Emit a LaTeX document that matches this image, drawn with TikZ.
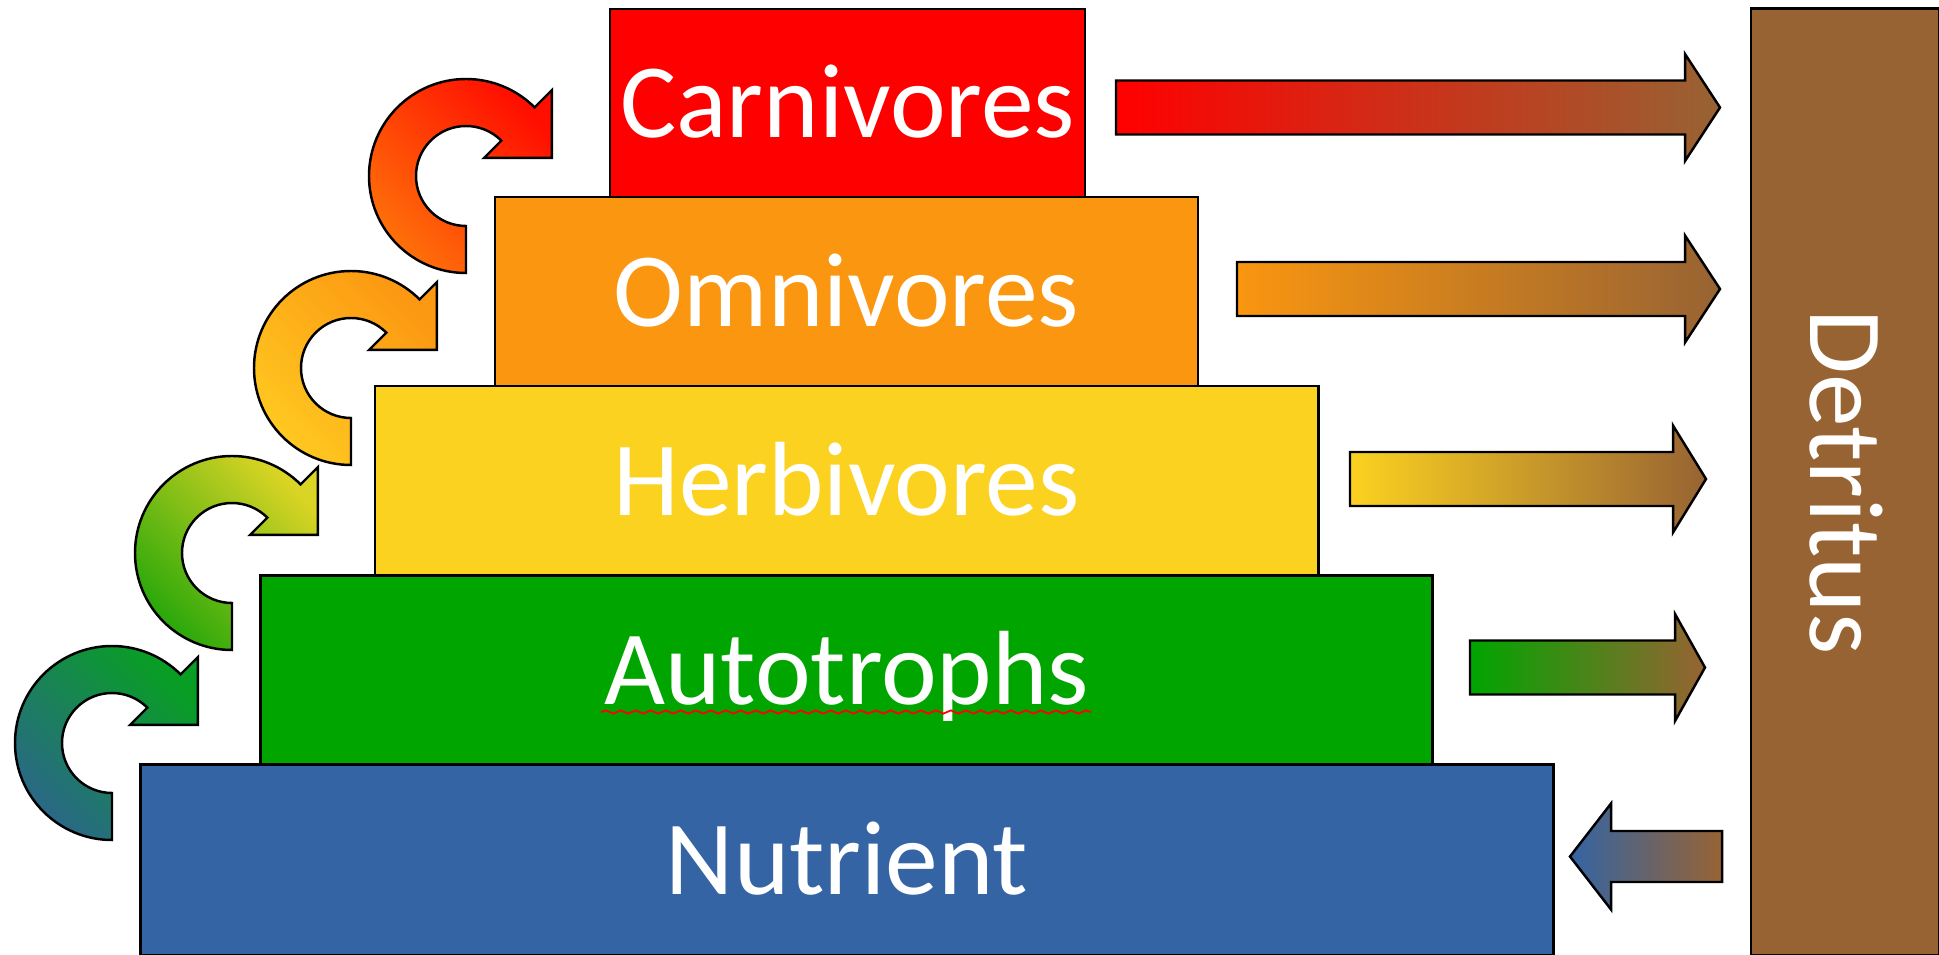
\documentclass[tikz,border=0pt]{standalone}
\usepackage{fontspec}
\setmainfont{Carlito}
\usetikzlibrary{calc,decorations.pathmorphing}

% level colours
\definecolor{carn}{RGB}{255,0,0}
\definecolor{omni}{RGB}{250,150,15}
\definecolor{herb}{RGB}{252,210,32}
\definecolor{autot}{RGB}{0,165,0}
\definecolor{nutr}{RGB}{52,100,164}
\definecolor{detr}{RGB}{151,99,51}
% colours of the cycling arrows (lower end, upper end)
\definecolor{ringAlo}{RGB}{255,112,10}
\definecolor{ringAhi}{RGB}{255,15,0}
\definecolor{ringBlo}{RGB}{255,200,32}
\definecolor{ringBhi}{RGB}{252,152,18}
\definecolor{ringClo}{RGB}{40,168,10}
\definecolor{ringChi}{RGB}{218,212,36}
\definecolor{ringDlo}{RGB}{42,104,135}
\definecolor{ringDhi}{RGB}{8,158,36}

% block arrow pointing right: colour, x start, head base x, tip x, centre y
\newcommand\rightblock[5]{%
  \draw[outline, left color=#1, right color=detr]
    (#2,#5-27) -- (#3,#5-27) -- (#3,#5-53.5) -- (#4,#5)
    -- (#3,#5+53.5) -- (#3,#5+27) -- (#2,#5+27) -- cycle;}

% circular arrow around centre (#1,#2), shaded from #3 (lower left) to #4 (upper right)
\newcommand\cycarrow[4]{%
  \draw[outline, bottom color=#3, top color=#4, shading angle=-45]
    ($(#1,#2)+(90:97)$) arc[start angle=90, end angle=315, radius=97]
    -- ($(#1,#2)+(315:121.5)$)
    -- ($(#1,#2)+(315:73.5)+(45:48)$)
    -- ($(#1,#2)+(315:25.5)$)
    -- ($(#1,#2)+(315:50)$) arc[start angle=315, end angle=90, radius=50]
    -- cycle;}

\begin{document}
\begin{tikzpicture}[x=0.01cm, y=-0.01cm,
  outline/.style={draw=black, line width=0.7pt, line join=miter},
  level/.style={outline, inner sep=0pt, text=white,
    font=\fontsize{30}{36}\selectfont, text height=19.8pt, text depth=0pt},
]
\useasboundingbox (0,0) rectangle (1939,955);

% trophic levels
\node[level, fill=nutr,  minimum width=14.12cm, minimum height=1.905cm] (nutrient)   at (847,859.75)  {Nutrient};
\node[level, fill=autot, minimum width=11.71cm, minimum height=1.89cm]  (autotrophs) at (846.5,670)   {Autotrophs};
\node[level, fill=herb,  minimum width=9.43cm,  minimum height=1.895cm] (herbivores) at (846.5,480.75){Herbivores};
\node[level, fill=omni,  minimum width=7.03cm,  minimum height=1.89cm]  (omnivores)  at (846.5,291.5) {Omnivores};
\node[level, fill=carn,  minimum width=4.75cm,  minimum height=1.88cm]  (carnivores) at (847.5,103)   {Carnivores};

% spell-check underline
\draw[red, line width=0.5pt, decorate,
      decoration={snake, segment length=0.15cm, amplitude=0.016cm}]
  (601,712) -- (1091,712);

% detritus column
\node[level, fill=detr, rotate=-90, minimum width=9.46cm, minimum height=1.88cm] (detritus) at (1845,482) {Detritus};

% flows into detritus
\rightblock{carn}{1116}{1685}{1720}{107.5}
\rightblock{omni}{1237}{1685}{1720}{289}
\rightblock{herb}{1350}{1673}{1706}{479}
\rightblock{autot}{1470}{1675}{1705}{667.5}

% flow back to nutrients
\draw[outline, left color=nutr, right color=detr]
  (1722,856.5-25.5) -- (1611,856.5-25.5) -- (1611,856.5-53) -- (1570,856.5)
  -- (1611,856.5+53) -- (1611,856.5+25.5) -- (1722,856.5+25.5) -- cycle;

% transfers between levels
\cycarrow{466}{176}{ringAlo}{ringAhi}
\cycarrow{351}{368}{ringBlo}{ringBhi}
\cycarrow{232}{553}{ringClo}{ringChi}
\cycarrow{112}{743}{ringDlo}{ringDhi}
\end{tikzpicture}
\end{document}
